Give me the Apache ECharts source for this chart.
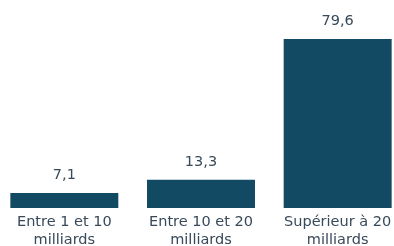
<!DOCTYPE html>
<html>
<head>
<meta charset="utf-8">
<script src="https://cdn.jsdelivr.net/npm/echarts@6/dist/echarts.min.js"></script>
<style>
  html, body { margin: 0; padding: 0; background: #fff; }
  #e1 { width: 394px; height: 246px; }
</style>
</head>
<body>
<div id="e1"></div>
<script>
var categories = ['Entre 1 et 10\nmilliards', 'Entre 10 et 20\nmilliards', 'Supérieur à 20\nmilliards'];
var values = [7.1, 13.3, 79.6];

var e1 = echarts.init(document.getElementById('e1'));
var option1 = {
    animation: false,
    grid: {
        left: -4,
        right: -12,
        top: 39,
        bottom: 38,
        containLabel: false,
        outerBoundsMode: 'none'
    },
    xAxis: {
        type: 'category',
        data: categories,
        axisLine: { show: false },
        axisTick: { show: false },
        axisLabel: {
            interval: 0,
            margin: 5,
            color: '#38495a',
            fontFamily: '"DejaVu Sans", Verdana, sans-serif',
            fontSize: 14.5,
            lineHeight: 18
        }
    },
    yAxis: {
        type: 'value',
        min: 0,
        max: 79.6,
        show: false,
        splitLine: { show: false }
    },
    series: [{
        type: 'bar',
        data: values,
        barCategoryGap: '21%',
        itemStyle: { color: '#134a63' },
        label: {
            show: true,
            position: 'top',
            distance: 10,
            color: '#38495a',
            fontFamily: '"DejaVu Sans", Verdana, sans-serif',
            fontSize: 14.5,
            formatter: function (p) {
                return p.value.toFixed(1).replace('.', ',');
            }
        }
    }]
};
e1.setOption(option1);
</script>
</body>
</html>
